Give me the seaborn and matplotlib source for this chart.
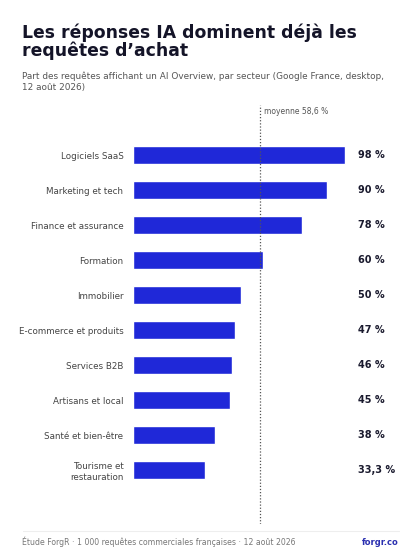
import matplotlib
matplotlib.use("Agg")
import matplotlib.pyplot as plt
import seaborn as sns
import pandas as pd

secteurs = ["Logiciels SaaS", "Marketing et tech", "Finance et assurance", "Formation",
            "Immobilier", "E-commerce et produits", "Services B2B", "Artisans et local",
            "Santé et bien-être", "Tourisme et\nrestauration"]
parts = [98, 90, 78, 60, 50, 47, 46, 45, 38, 33.3]
etiquettes = ["98 %", "90 %", "78 %", "60 %", "50 %", "47 %", "46 %", "45 %", "38 %", "33,3 %"]
moyenne = 58.6

sns.set_theme(style="white")
plt.rcParams['font.family'] = ['DejaVu Sans']

df = pd.DataFrame({"secteur": secteurs, "part": parts})

fig = plt.figure(figsize=(4.2, 5.6), dpi=100)
ax = fig.add_axes([0.317, 0.064, 0.514, 0.7485])
sns.barplot(data=df, x="part", y="secteur", color="#1f28d8", saturation=1, width=0.52, ax=ax)
ax.set_xlim(0, 100)
ax.set_ylim(9.54 + 1, -1.43)
ax.axvline(moyenne, color="#555555", lw=0.9, ls=(0, (1, 1.5)))
ax.text(moyenne + 2, -1.43 + 0.3, "moyenne 58,6 %", fontsize=5.5, color="#555555", va="bottom")
for i, t in enumerate(etiquettes):
    ax.text(1.04, i, t, transform=ax.get_yaxis_transform(), fontsize=7, fontweight="bold",
            color="#1a1a2e", va="center", ha="left")
ax.set_xlabel("")
ax.set_ylabel("")
ax.set_xticks([])
ax.tick_params(axis="y", length=0, labelsize=6.3, labelcolor="#444444", pad=7)
sns.despine(ax=ax, left=True, bottom=True)

fig.text(0.052, 0.892, "Les réponses IA dominent déjà les\nrequêtes d’achat", fontsize=12.4,
         fontweight="bold", color="#141428", va="bottom", linespacing=1.0)
fig.text(0.052, 0.835, "Part des requêtes affichant un AI Overview, par secteur (Google France, desktop,\n12 août 2026)",
         fontsize=6.4, color="#555555", va="bottom", linespacing=1.35)
fig.add_artist(plt.Line2D([0.055, 0.95], [0.052, 0.052], color="#eeeeee", lw=0.8))
fig.text(0.052, 0.032, "Étude ForgR · 1 000 requêtes commerciales françaises · 12 août 2026",
         fontsize=5.6, color="#777777", va="center")
fig.text(0.95, 0.032, "forgr.co", fontsize=6, color="#2a2fb0", fontweight="bold", va="center", ha="right")

fig.savefig("out.png", dpi=100)
